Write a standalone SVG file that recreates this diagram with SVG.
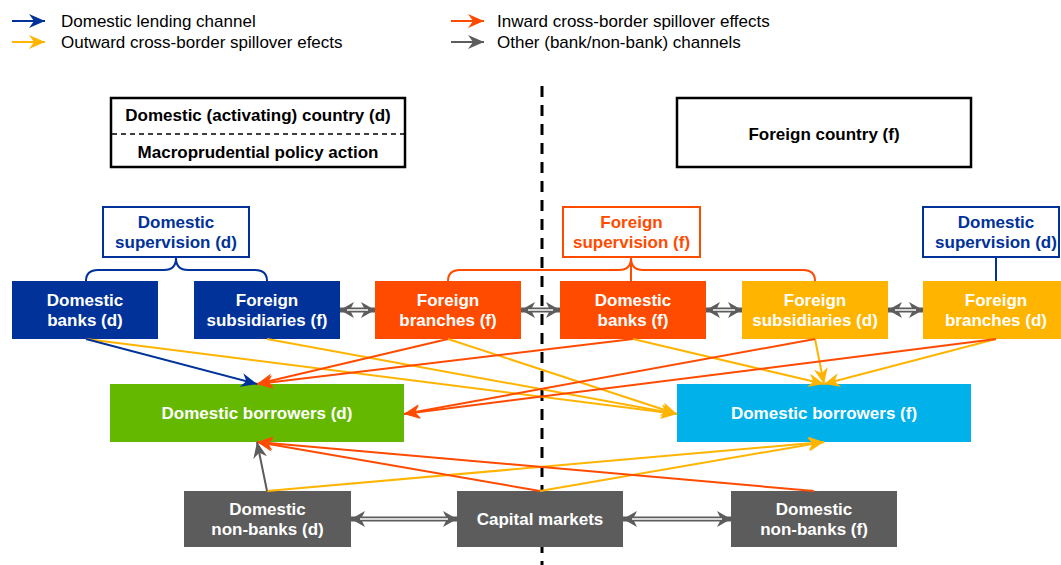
<svg xmlns="http://www.w3.org/2000/svg" width="1061" height="565" viewBox="0 0 1061 565">
<style>
text{font-family:"Liberation Sans",Arial,sans-serif;font-size:17px}
.b{font-weight:bold}
.w{fill:#fff;font-weight:bold;text-anchor:middle}
.c{text-anchor:middle}
.ln{fill:none;stroke-width:2}
.blue{stroke:#003299}
.red{stroke:#FF4B00}
.yel{stroke:#FFB400}
.gry{stroke:#5C5C5C}
</style>
<defs>
<marker id="mB" markerUnits="userSpaceOnUse" markerWidth="16" markerHeight="14" refX="16" refY="7" orient="auto"><path d="M0,0 L16,7 L0,14 L5,7 Z" fill="#003299"/></marker>
<marker id="mR" markerUnits="userSpaceOnUse" markerWidth="16" markerHeight="14" refX="16" refY="7" orient="auto"><path d="M0,0 L16,7 L0,14 L5,7 Z" fill="#FF4B00"/></marker>
<marker id="mY" markerUnits="userSpaceOnUse" markerWidth="16" markerHeight="14" refX="16" refY="7" orient="auto"><path d="M0,0 L16,7 L0,14 L5,7 Z" fill="#FFB400"/></marker>
<marker id="mG" markerUnits="userSpaceOnUse" markerWidth="16" markerHeight="14" refX="16" refY="7" orient="auto"><path d="M0,0 L16,7 L0,14 L5,7 Z" fill="#5C5C5C"/></marker>
<marker id="mD" markerUnits="userSpaceOnUse" markerWidth="14" markerHeight="16" refX="14" refY="8" orient="auto-start-reverse"><path d="M0,0 L14,8 L0,16 L4,8 Z" fill="#5C5C5C"/></marker>
</defs>

<g id="legend">
<line class="ln blue" x1="12" y1="21" x2="45" y2="21" marker-end="url(#mB)"/>
<text x="61" y="27">Domestic lending channel</text>
<line class="ln yel" x1="12" y1="42" x2="45" y2="42" marker-end="url(#mY)"/>
<text x="61" y="48">Outward cross-border spillover efects</text>
<line class="ln red" x1="451" y1="21" x2="484" y2="21" marker-end="url(#mR)"/>
<text x="497" y="27">Inward cross-border spillover effects</text>
<line class="ln gry" x1="451" y1="42" x2="484" y2="42" marker-end="url(#mG)"/>
<text x="497" y="48">Other (bank/non-bank) channels</text>
</g>

<line id="divider" x1="542" y1="86" x2="542" y2="565" stroke="#000" stroke-width="3" stroke-dasharray="11 8"/>

<g id="domestic-country">
<rect x="111" y="98" width="294" height="69" fill="#fff" stroke="#000" stroke-width="2.5"/>
<line x1="112" y1="134" x2="404" y2="134" stroke="#000" stroke-width="1.5" stroke-dasharray="5 4"/>
<text class="b c" x="258" y="121">Domestic (activating) country (d)</text>
<text class="b c" x="258" y="158">Macroprudential policy action</text>
</g>
<g id="foreign-country">
<rect x="677" y="98" width="294" height="69" fill="#fff" stroke="#000" stroke-width="2.5"/>
<text class="b c" x="824" y="140">Foreign country (f)</text>
</g>

<g id="dom-supervision-d">
<rect x="103" y="207" width="146" height="50" fill="#fff" stroke="#003299" stroke-width="2"/>
<text class="b c" x="176" y="228" fill="#003299">Domestic</text>
<text class="b c" x="176" y="248" fill="#003299">supervision (d)</text>
</g>
<g id="for-supervision-f">
<rect x="563" y="207" width="137" height="50" fill="#fff" stroke="#FF4B00" stroke-width="2"/>
<text class="b c" x="631.5" y="228" fill="#FF4B00">Foreign</text>
<text class="b c" x="631.5" y="248" fill="#FF4B00">supervision (f)</text>
</g>
<g id="dom-supervision-d2">
<rect x="923" y="207" width="136" height="50" fill="#fff" stroke="#003299" stroke-width="2"/>
<text class="b c" x="996" y="228" fill="#003299">Domestic</text>
<text class="b c" x="996" y="248" fill="#003299">supervision (d)</text>
</g>

<g id="supervision-links">
<path class="ln blue" d="M86,281 Q86,270 98,270 L164,270 Q176,270 176,258 Q176,270 188,270 L255,270 Q267,270 267,281"/>
<path class="ln red" d="M448,281 Q448,270 460,270 L619,270 Q631,270 631,258 Q631,270 643,270 L803,270 Q815,270 815,281 M631,258 L631,281"/>
<line class="ln blue" x1="996" y1="257" x2="996" y2="281"/>
</g>

<g id="domestic-banks-d"><rect x="12" y="281" width="146" height="58" fill="#003299"/>
<text class="w" x="85" y="306">Domestic</text><text class="w" x="85" y="326">banks (d)</text></g>
<g id="foreign-subsidiaries-f"><rect x="194" y="281" width="146" height="58" fill="#003299"/>
<text class="w" x="267" y="306">Foreign</text><text class="w" x="267" y="326">subsidiaries (f)</text></g>
<g id="foreign-branches-f"><rect x="375" y="281" width="146" height="58" fill="#FF4B00"/>
<text class="w" x="448" y="306">Foreign</text><text class="w" x="448" y="326">branches (f)</text></g>
<g id="domestic-banks-f"><rect x="560" y="281" width="146" height="58" fill="#FF4B00"/>
<text class="w" x="633" y="306">Domestic</text><text class="w" x="633" y="326">banks (f)</text></g>
<g id="foreign-subsidiaries-d"><rect x="742" y="281" width="146" height="58" fill="#FFB400"/>
<text class="w" x="815" y="306">Foreign</text><text class="w" x="815" y="326">subsidiaries (d)</text></g>
<g id="foreign-branches-d"><rect x="923" y="281" width="146" height="58" fill="#FFB400"/>
<text class="w" x="996" y="306">Foreign</text><text class="w" x="996" y="326">branches (d)</text></g>

<g id="domestic-borrowers-d"><rect x="110" y="384" width="294" height="58" fill="#65B800"/>
<text class="w" x="257" y="419">Domestic borrowers (d)</text></g>
<g id="domestic-borrowers-f"><rect x="677" y="384" width="294" height="58" fill="#00B1EA"/>
<text class="w" x="824" y="419">Domestic borrowers (f)</text></g>

<g id="domestic-nonbanks-d"><rect x="184" y="491" width="167" height="56" fill="#5C5C5C"/>
<text class="w" x="267.5" y="515">Domestic</text><text class="w" x="267.5" y="535">non-banks (d)</text></g>
<g id="capital-markets"><rect x="457" y="491" width="166" height="56" fill="#5C5C5C"/>
<text class="w" x="540" y="525">Capital markets</text></g>
<g id="domestic-nonbanks-f"><rect x="731" y="491" width="166" height="56" fill="#5C5C5C"/>
<text class="w" x="814" y="515">Domestic</text><text class="w" x="814" y="535">non-banks (f)</text></g>

<g id="connectors">
<g class="ln yel" marker-end="url(#mY)">
<line x1="86" y1="339" x2="677" y2="414"/>
<line x1="267" y1="339" x2="677" y2="414"/>
<line x1="448" y1="339" x2="677" y2="414"/>
<line x1="633" y1="339" x2="824" y2="384"/>
<line x1="815" y1="339" x2="824" y2="384"/>
<line x1="996" y1="339" x2="824" y2="384"/>
<line x1="267" y1="491" x2="824" y2="442"/>
<line x1="540" y1="491" x2="824" y2="442"/>
</g>
<g class="ln red" marker-end="url(#mR)">
<line x1="448" y1="339" x2="257" y2="384"/>
<line x1="633" y1="339" x2="257" y2="384"/>
<line x1="815" y1="339" x2="404" y2="414"/>
<line x1="996" y1="339" x2="404" y2="414"/>
<line x1="540" y1="491" x2="257" y2="442"/>
<line x1="814" y1="491" x2="257" y2="442"/>
</g>
<line class="ln blue" x1="86" y1="339" x2="257" y2="384" marker-end="url(#mB)"/>
<line class="ln gry" x1="267" y1="491" x2="257" y2="442" marker-end="url(#mG)"/>
<g stroke="#5C5C5C" stroke-width="5" marker-start="url(#mD)" marker-end="url(#mD)">
<line x1="340" y1="310" x2="375" y2="310"/>
<line x1="521" y1="310" x2="560" y2="310"/>
<line x1="706" y1="310" x2="742" y2="310"/>
<line x1="888" y1="310" x2="923" y2="310"/>
<line x1="351" y1="519" x2="457" y2="519"/>
<line x1="623" y1="519" x2="731" y2="519"/>
</g>
<g stroke="#fff" stroke-width="1.5">
<line x1="347" y1="310" x2="368" y2="310"/>
<line x1="528" y1="310" x2="553" y2="310"/>
<line x1="713" y1="310" x2="735" y2="310"/>
<line x1="895" y1="310" x2="916" y2="310"/>
<line x1="360" y1="519" x2="448" y2="519"/>
<line x1="632" y1="519" x2="722" y2="519"/>
</g>
</g>
</svg>
